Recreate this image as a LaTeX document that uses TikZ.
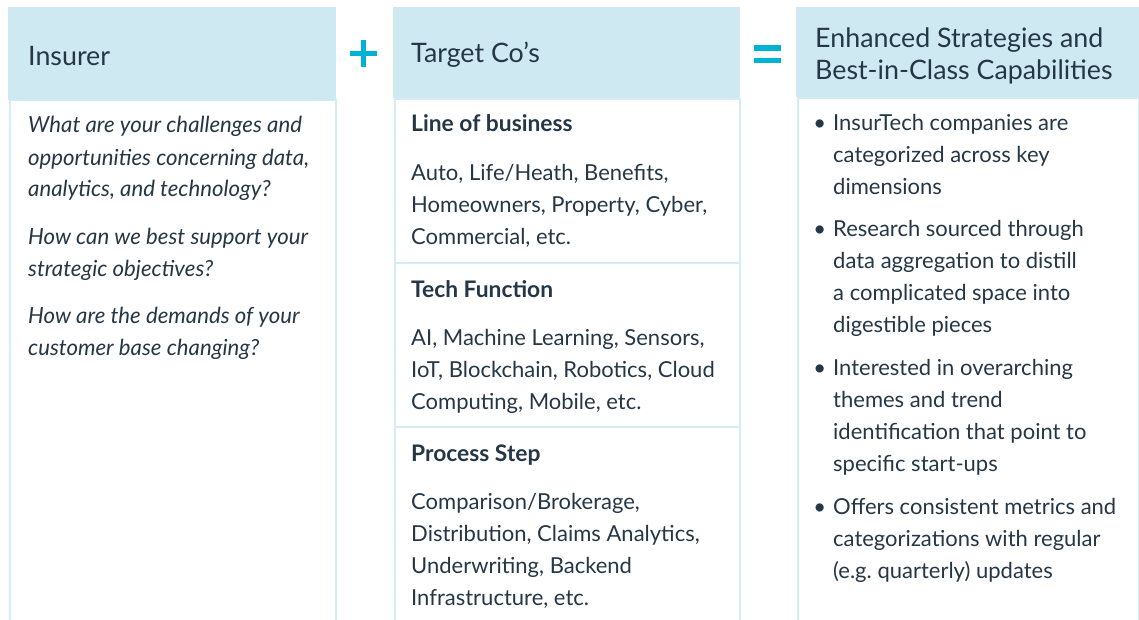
\documentclass[tikz,border=0pt]{standalone}
\usepackage{fontspec}
\setmainfont{Lato}
\usetikzlibrary{positioning}
\frenchspacing
\definecolor{hdrblue}{HTML}{CFE9F2}
\definecolor{rulecol}{HTML}{D3ECF5}
\definecolor{signblue}{HTML}{00B3D4}
\definecolor{ink}{HTML}{253746}
\tikzstyle{hdr}=[
	fill=hdrblue,
	anchor=north west,
	inner sep=0pt]
\tikzstyle{hdrtext}=[
	anchor=west,
	align=left,
	inner sep=0pt,
	text=ink,
	yshift=-2.5pt,
	font=\fontsize{26.8}{32}\selectfont]
\tikzstyle{cell}=[
	draw=rulecol,
	line width=2pt,
	fill=white,
	anchor=north west,
	inner sep=0pt]
\tikzstyle{body}=[
	anchor=base west,
	align=left,
	inner sep=0pt,
	text=ink,
	font=\fontsize{22}{32}\selectfont]
\tikzstyle{question}=[
	body,
	font=\fontsize{22.2}{32}\selectfont\itshape]
\tikzstyle{dimhead}=[
	body,
	font=\fontsize{22.8}{32}\selectfont\bfseries]
\tikzstyle{sign}=[
	signblue,
	line width=5.3pt]

\begin{document}
\begin{tikzpicture}[x=1pt,y=-1pt]
	\useasboundingbox (0,0) rectangle (1139,620);
	% body cells
	\node[cell,minimum width=326pt,minimum height=530pt]	(insbody)	at (9,99)	{};
	\node[cell,minimum width=345pt,minimum height=164pt]	(lobcell)	at (394,98)	{};
	\node[cell,minimum width=345pt,minimum height=164pt]	(techcell)	at (394,262)	{};
	\node[cell,minimum width=345pt,minimum height=200pt]	(proccell)	at (394,426)	{};
	\node[cell,minimum width=341pt,minimum height=530pt]	(stratbody)	at (797,97)	{};
	% headers
	\node[hdr,minimum width=328pt,minimum height=93pt]	(ins)	at (8,7)	{};
	\node[hdr,minimum width=347pt,minimum height=91pt]	(target)	at (393,7)	{};
	\node[hdr,minimum width=343pt,minimum height=90pt]	(strat)	at (796,7)	{};
	\node[hdrtext,right=20pt of ins.west]	(inslbl)	{Insurer};
	\node[hdrtext,right=18pt of target.west]	(targetlbl)	{Target Co’s};
	\node[hdrtext,right=19pt of strat.west,yshift=-1.5pt]	(stratlbl)	{Enhanced Strategies and\\Best-in-Class Capabilities};
	% signs
	\node[inner sep=0pt,minimum size=26pt]	(plus)	at (363.5,53.5)	{};
	\draw[sign] (plus.west) -- (plus.east) (plus.north) -- (plus.south);
	\node[inner sep=0pt,minimum width=27pt,minimum height=12pt]	(equals)	at (767.5,54.2)	{};
	\draw[sign,line width=5.5pt] (equals.north west) -- (equals.north east) (equals.south west) -- (equals.south east);
	% insurer questions (base = last line)
	\node[question]	(q1)	at (28,197)	{What are your challenges and\\opportunities concerning data,\\analytics, and technology?};
	\node[question]	(q2)	at (28,276)	{How can we best support your\\strategic objectives?};
	\node[question]	(q3)	at (28,355)	{How are the demands of your\\customer base changing?};
	% target dimensions
	\node[dimhead]	(lobhd)	at (411,132)	{Line of business};
	\node[body]	(lob)	at (411,244)	{Auto, Life/Heath, Benefits,\\Homeowners, Property, Cyber,\\Commercial, etc.};
	\node[dimhead]	(techhd)	at (411,297)	{Tech Function};
	\node[body]	(tech)	at (411,409)	{AI, Machine Learning, Sensors,\\IoT, Blockchain, Robotics, Cloud\\Computing, Mobile, etc.};
	\node[dimhead]	(prochd)	at (411,461)	{Process Step};
	\node[body]	(proc)	at (411,605)	{Comparison/Brokerage,\\Distribution, Claims Analytics,\\Underwriting, Backend\\Infrastructure, etc.};
	% strategy bullets
	\node[body]	(b1)	at (833,195)	{\llap{\textbullet\hspace{7pt}}InsurTech companies are\\categorized across key\\dimensions};
	\node[body]	(b2)	at (833,332)	{\llap{\textbullet\hspace{7pt}}Research sourced through\\data aggregation to distill\\a complicated space into\\digestible pieces};
	\node[body]	(b3)	at (833,471)	{\llap{\textbullet\hspace{7pt}}Interested in overarching\\themes and trend\\identification that point to\\specific start-ups};
	\node[body]	(b4)	at (833,578)	{\llap{\textbullet\hspace{7pt}}Offers consistent metrics and\\categorizations with regular\\(e.g. quarterly) updates};
\end{tikzpicture}
\end{document}
